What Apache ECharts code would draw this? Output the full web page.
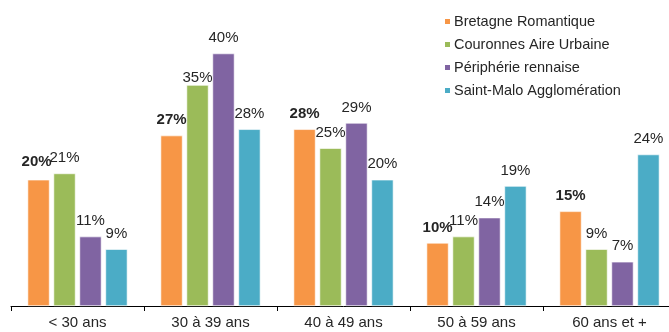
<!DOCTYPE html>
<html>
<head>
<meta charset="utf-8">
<script src="https://cdn.jsdelivr.net/npm/echarts@6/dist/echarts.min.js"></script>
<style>
    html, body { margin: 0; padding: 0; background: #fff; overflow: hidden; }
    #main { width: 676px; height: 332px; }
</style>
</head>
<body>
<div id="main"></div>
<script>
var categories = ['< 30 ans', '30 à 39 ans', '40 à 49 ans', '50 à 59 ans', '60 ans et +'];
var bretagne = [20, 27, 28, 10, 15];
var couronnes = [21, 35, 25, 11, 9];
var peripherie = [11, 40, 29, 14, 7];
var saintMalo = [9, 28, 20, 19, 24];

var seriesNames = ['Bretagne Romantique', 'Couronnes Aire Urbaine', 'Périphérie rennaise', 'Saint-Malo Agglomération'];
var seriesData = [bretagne, couronnes, peripherie, saintMalo];
var colors = ['#F79646', '#9BBB59', '#8064A2', '#4BACC6'];

var FONT = 'Liberation Sans, Arial, sans-serif';

var myChart = echarts.init(document.getElementById('main'));

var series = [];
for (var i = 0; i < seriesData.length; i++) {
    var items = [];
    for (var j = 0; j < seriesData[i].length; j++) {
        var it = { value: seriesData[i][j] };
        // le label 35% est descendu dans l'original (chevauche la barre voisine)
        if (i === 1 && j === 1) {
            it.label = { distance: 0 };
        }
        if (i === 0 && j === 0) {
            it.label = { distance: 10, offset: [-2, 0] };
        }
        items.push(it);
    }
    series.push({
        type: 'bar',
        name: seriesNames[i],
        data: items,
        barWidth: 22,
        barGap: '18%',
        itemStyle: {
            color: colors[i],
            borderColor: '#ffffff',
            borderWidth: 0.6
        },
        label: {
            show: true,
            position: 'top',
            distance: 8,
            formatter: '{c}%',
            fontFamily: FONT,
            fontSize: 15,
            fontWeight: i === 0 ? 'bold' : 'normal',
            color: '#262626'
        }
    });
}

var option = {
    animation: false,
    color: colors,
    legend: {
        orient: 'vertical',
        left: 438,
        top: 9,
        itemWidth: 7,
        itemHeight: 7,
        itemGap: 8,
        icon: 'rect',
        textStyle: {
            fontFamily: FONT,
            fontSize: 14.5,
            color: '#262626',
            padding: [0, 0, 0, -2]
        },
        data: seriesNames
    },
    grid: {
        left: 11,
        right: 0,
        top: 3,
        bottom: 26
    },
    xAxis: {
        type: 'category',
        data: categories,
        axisLine: { lineStyle: { color: '#000000', width: 1 } },
        axisTick: { show: true, length: 5, lineStyle: { color: '#000000' } },
        axisLabel: {
            fontFamily: FONT,
            fontSize: 15,
            color: '#262626',
            margin: 9
        }
    },
    yAxis: {
        type: 'value',
        min: 0,
        max: 48,
        show: false,
        splitLine: { show: false }
    },
    series: series
};
myChart.setOption(option);
</script>
</body>
</html>
